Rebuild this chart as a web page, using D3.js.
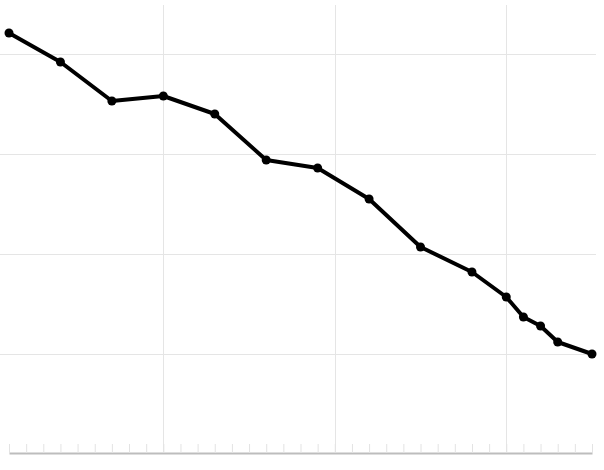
<!DOCTYPE html>
<html>
<head>
<meta charset="utf-8">
<script src="https://cdn.jsdelivr.net/npm/d3@7"></script>
<style>
  body { margin: 0; background: #fff; }
  svg { display: block; }
</style>
</head>
<body>
<div id="vis"></div>
<script>
// data
var years = [1986, 1989, 1992, 1995, 1998, 2001, 2004, 2007, 2010, 2013, 2015, 2016, 2017, 2018, 2020];
var values = [42.1, 39.2, 35.3, 35.8, 34.0, 29.4, 28.6, 25.5, 20.7, 18.2, 15.7, 13.7, 12.8, 11.2, 10.0];
var yGrid = [10, 20, 30, 40];
var xGrid = [1995, 2005, 2015];

var width = 604, height = 470;

var svg = d3.select("#vis").append("svg")
  .attr("width", width)
  .attr("height", height);

var x = d3.scaleLinear().domain([1986, 2020]).range([9, 592]);
var y = d3.scaleLinear().domain([0, 45]).range([454, 4]);

// horizontal grid
svg.append("g").selectAll("line")
  .data(yGrid).join("line")
    .attr("x1", 0).attr("x2", 596)
    .attr("y1", d => Math.round(y(d)) + 0.5)
    .attr("y2", d => Math.round(y(d)) + 0.5)
    .attr("stroke", "#e5e5e5")
    .attr("stroke-width", 1);

// vertical grid
svg.append("g").selectAll("line")
  .data(xGrid).join("line")
    .attr("x1", d => Math.round(x(d)) + 0.5)
    .attr("x2", d => Math.round(x(d)) + 0.5)
    .attr("y1", 5).attr("y2", 453)
    .attr("stroke", "#e5e5e5")
    .attr("stroke-width", 1);

// bottom axis with yearly minor ticks, no labels
var xAxis = d3.axisBottom(x)
  .tickValues(d3.range(1986, 2021))
  .tickSize(-9)
  .tickSizeOuter(0)
  .tickFormat("");
var ax = svg.append("g")
  .attr("transform", "translate(0,453)")
  .call(xAxis);
ax.select(".domain").attr("stroke", "#bdbdbd").attr("stroke-width", 2);
ax.selectAll(".tick line").attr("stroke", "#e3e3e3").attr("stroke-width", 1);

// line
var line = d3.line()
  .x((d, i) => x(years[i]))
  .y(d => y(d));

svg.append("path")
  .datum(values)
  .attr("fill", "none")
  .attr("stroke", "#000")
  .attr("stroke-width", 4)
  .attr("stroke-linejoin", "round")
  .attr("d", line);

svg.append("g").selectAll("circle")
  .data(values).join("circle")
    .attr("cx", (d, i) => x(years[i]))
    .attr("cy", d => y(d))
    .attr("r", 4.5)
    .attr("fill", "#000");
</script>
</body>
</html>
